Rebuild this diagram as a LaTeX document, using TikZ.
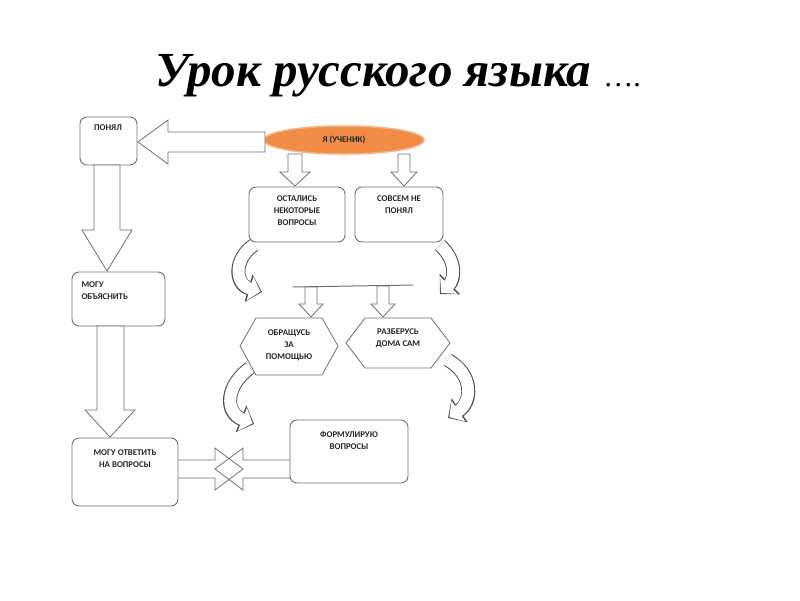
\documentclass[tikz,border=0pt]{standalone}
\usepackage{fontspec}
\setmainfont{Liberation Serif}
\newfontfamily\boxfont{Carlito}
\usetikzlibrary{positioning,arrows.meta,shapes.geometric,calc}
\definecolor{orangeel}{RGB}{240,140,70}
\definecolor{bandgray}{RGB}{185,185,185}
\definecolor{edge}{RGB}{110,110,110}
\tikzset{
  box/.style={draw=edge,rounded corners=7,line width=0.9},
  lbl/.style={font=\boxfont\bfseries\fontsize{8.8}{12}\selectfont,align=center,text=black!85},
  blockarrow/.style={draw=edge,fill=white,line width=0.8},
}
\newcommand{\curl}[1]{%
  \draw[black!70,line width=14,-{Triangle[length=14,width=28]}] #1;
  \draw[white,line width=12,shorten >=1.5,-{Triangle[length=11,width=24]}] #1;
}
\begin{document}
\begin{tikzpicture}[x=1pt,y=-1pt]
    \useasboundingbox (0,0) rectangle (800,600);
    % Заголовок
    \node[font=\fontsize{49}{56}\selectfont\bfseries\itshape] (title) at (398,76) {Урок русского языка \normalfont\fontsize{30}{34}\selectfont ….};

    % Блоки
    \draw[box] (80,117) rectangle (137,165);
    \node[lbl,anchor=north] (ponyal) at (108,121) {ПОНЯЛ};
    \draw[box] (72,272) rectangle (165,326);
    \node[lbl,anchor=north west,align=left] (obyasn) at (78,278) {МОГУ\\ОБЪЯСНИТЬ};
    \draw[box] (72,438) rectangle (178,506);
    \node[lbl,anchor=north] (otvet) at (125,446) {МОГУ ОТВЕТИТЬ\\НА ВОПРОСЫ};
    \draw[box] (249,187) rectangle (345,242);
    \node[lbl,anchor=north] (ostal) at (297,192) {ОСТАЛИСЬ\\НЕКОТОРЫЕ\\ВОПРОСЫ};
    \draw[box] (355,187) rectangle (443,242);
    \node[lbl,anchor=north] (sovsem) at (399,192) {СОВСЕМ НЕ\\ПОНЯЛ};
    \draw[box] (290,420) rectangle (408,483);
    \node[lbl,anchor=north] (formul) at (349,428) {ФОРМУЛИРУЮ\\ВОПРОСЫ};

    % Ученик
    \node[ellipse,fill=orangeel,draw=orangeel!70!white,line width=1.5,minimum width=160,minimum height=28,lbl] (uchenik) at (344,140) {Я (УЧЕНИК)};

    % Шестиугольники
    \draw[blockarrow] (240,346) -- (256,318) -- (322,318) -- (338,346) -- (322,375) -- (256,375) -- cycle;
    \node[lbl] (obrash) at (289,345) {ОБРАЩУСЬ\\ЗА\\ПОМОЩЬЮ};
    \draw[blockarrow] (346,343) -- (365,318) -- (431,318) -- (450,343) -- (431,368) -- (365,368) -- cycle;
    \node[lbl,anchor=north] (razber) at (398,325) {РАЗБЕРУСЬ\\ДОМА САМ};

    % Большие стрелки
    \draw[blockarrow] (265,132) -- (168,132) -- (168,120) -- (138,142) -- (168,164) -- (168,152) -- (265,152) -- cycle;
    \draw[blockarrow] (94,165) -- (94,230) -- (82,230) -- (107,271) -- (132,230) -- (120,230) -- (120,165) -- cycle;
    \draw[blockarrow] (97,326) -- (97,410) -- (85,410) -- (110,437) -- (135,410) -- (124,410) -- (124,326) -- cycle;
    \draw[blockarrow] (288,154) -- (288,172) -- (280,172) -- (295,186) -- (310,172) -- (302,172) -- (302,154) -- cycle;
    \draw[blockarrow] (398,154) -- (398,172) -- (391,172) -- (404,186) -- (417,172) -- (410,172) -- (410,154) -- cycle;

    % Линия и стрелки к шестиугольникам
    \draw[edge,line width=1] (293,287) -- (413,285);
    \draw[blockarrow] (305,287) -- (305,304) -- (299,304) -- (311,317) -- (323,304) -- (317,304) -- (317,287) -- cycle;
    \draw[blockarrow] (377,286) -- (377,304) -- (371,304) -- (383,317) -- (395,304) -- (389,304) -- (389,286) -- cycle;

    % Встречные стрелки
    \draw[blockarrow,fill=none] (178,460) -- (215,460) -- (215,448) -- (243,469) -- (215,490) -- (215,478) -- (178,478);
    \draw[blockarrow,fill=none] (290,460) -- (243,460) -- (243,448) -- (215,469) -- (243,490) -- (243,478) -- (290,478);

    % Изогнутые стрелки
    \curl{(254,245) .. controls (234,258) and (234,284) .. (262,292)}
    \curl{(440,245) .. controls (458,262) and (454,280) .. (440,294)}
    \curl{(250,368) .. controls (226,385) and (224,412) .. (254,424)}
    \curl{(448,360) .. controls (474,375) and (472,402) .. (448,418)}
\end{tikzpicture}
\end{document}
